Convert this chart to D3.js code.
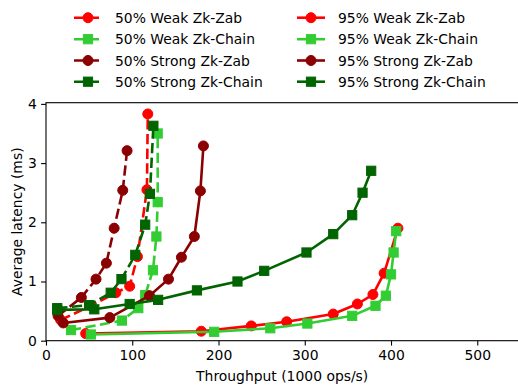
<!DOCTYPE html>
<html>
<head>
<meta charset="utf-8">
<script src="https://cdn.jsdelivr.net/npm/d3@7"></script>
<style>
  html, body { margin: 0; padding: 0; background: #fff; }
  svg { display: block; font-family: "DejaVu Sans", sans-serif; }
</style>
</head>
<body>
<svg id="chart" width="518" height="389"></svg>
<script>
// ---- Data (throughput in 1000 ops/s, latency in ms) ----
const xTicks = [0, 100, 200, 300, 400, 500];
const yTicks = [0, 1, 2, 3, 4];

const weak50ZabX = [17, 52, 81, 97, 106, 117, 118];
const weak50ZabY = [0.35, 0.59, 0.81, 0.92, 1.42, 2.55, 3.83];

const weak50ChainX = [29, 88, 107, 115, 124, 128, 129.5, 129.5];
const weak50ChainY = [0.18, 0.34, 0.55, 0.77, 1.19, 1.76, 2.34, 3.50];

const strong50ZabX = [14, 41, 58, 70, 79, 89, 94];
const strong50ZabY = [0.42, 0.73, 1.04, 1.31, 1.90, 2.54, 3.21];

const strong50ChainX = [13, 50, 75, 87.5, 103.5, 115, 120.5, 124.5];
const strong50ChainY = [0.55, 0.60, 0.81, 1.04, 1.45, 1.96, 2.48, 3.63];

const weak95ZabX = [46, 180, 238, 279, 333, 361, 379, 392, 408];
const weak95ZabY = [0.12, 0.16, 0.25, 0.32, 0.45, 0.62, 0.78, 1.14, 1.90];

const weak95ChainX = [52, 195, 260, 303, 355, 382, 394, 400, 403, 406];
const weak95ChainY = [0.105, 0.15, 0.21, 0.29, 0.42, 0.59, 0.76, 1.12, 1.49, 1.85];

const strong95ZabX = [20, 74, 120, 142, 157, 172, 179, 182.5];
const strong95ZabY = [0.30, 0.39, 0.76, 1.04, 1.41, 1.76, 2.53, 3.29];

const strong95ChainX = [13, 56, 97, 130, 175, 222, 253, 302, 333, 355, 367, 377];
const strong95ChainY = [0.52, 0.53, 0.62, 0.69, 0.85, 1.00, 1.18, 1.49, 1.80, 2.12, 2.50, 2.87];

const seriesLabels = [
  "50% Weak Zk-Zab", "50% Weak Zk-Chain", "50% Strong Zk-Zab", "50% Strong Zk-Chain",
  "95% Weak Zk-Zab", "95% Weak Zk-Chain", "95% Strong Zk-Zab", "95% Strong Zk-Chain"
];
const seriesX = [weak50ZabX, weak50ChainX, strong50ZabX, strong50ChainX,
                 weak95ZabX, weak95ChainX, strong95ZabX, strong95ChainX];
const seriesY = [weak50ZabY, weak50ChainY, strong50ZabY, strong50ChainY,
                 weak95ZabY, weak95ChainY, strong95ZabY, strong95ChainY];
const seriesColors = ["#ff0000", "#32cd32", "#8b0000", "#006400",
                      "#ff0000", "#32cd32", "#8b0000", "#006400"];
const seriesMarkers = ["circle", "square", "circle", "square",
                       "circle", "square", "circle", "square"];
const seriesDashed = [true, true, true, true, false, false, false, false];

(function () {
  const svg = d3.select("#chart");
  const pL = 46, pR = 520.4, pT = 102.7, pB = 340.7;
  const fontSize = 13.9;
  const dash = "10.3,4.4";
  const lw = 2.6;

  const x = d3.scaleLinear().domain([0, 550]).range([pL, pR]);
  const y = d3.scaleLinear().domain([0, 4.02]).range([pB, pT]);

  svg.append("defs").append("clipPath").attr("id", "plotclip")
    .append("rect").attr("x", pL).attr("y", pT)
    .attr("width", pR - pL).attr("height", pB - pT);

  const plot = svg.append("g").attr("clip-path", "url(#plotclip)");

  function drawMarker(g, kind, cx, cy, color) {
    if (kind === "circle") {
      g.append("circle").attr("cx", cx).attr("cy", cy).attr("r", 5)
        .attr("fill", color).attr("stroke", color).attr("stroke-width", 1);
    } else {
      const s = 9.2;
      g.append("rect").attr("x", cx - s / 2).attr("y", cy - s / 2)
        .attr("width", s).attr("height", s)
        .attr("fill", color).attr("stroke", color).attr("stroke-width", 1);
    }
  }

  const line = d3.line().x(d => x(d[0])).y(d => y(d[1]));

  seriesLabels.forEach((lab, i) => {
    const pts = seriesX[i].map((v, j) => [v, seriesY[i][j]]);
    const g = plot.append("g");
    g.append("path").datum(pts).attr("d", line)
      .attr("fill", "none").attr("stroke", seriesColors[i])
      .attr("stroke-width", lw)
      .attr("stroke-linejoin", "round")
      .attr("stroke-dasharray", seriesDashed[i] ? dash : null);
    pts.forEach(p => drawMarker(g, seriesMarkers[i], x(p[0]), y(p[1]), seriesColors[i]));
  });

  const xAxis = d3.axisBottom(x).tickValues(xTicks).tickFormat(d3.format("d"))
    .tickSize(4.9).tickPadding(4.2);
  const yAxis = d3.axisLeft(y).tickValues(yTicks).tickFormat(d3.format("d"))
    .tickSize(4.9).tickPadding(4.2);

  const gx = svg.append("g").attr("transform", `translate(0,${pB})`).call(xAxis);
  const gy = svg.append("g").attr("transform", `translate(${pL},0)`).call(yAxis);
  [gx, gy].forEach(g => {
    g.select(".domain").remove();
    g.selectAll(".tick line").attr("stroke", "#000").attr("stroke-width", 1.1);
    g.selectAll(".tick text").attr("fill", "#000")
      .style("font-size", fontSize + "px").style("font-family", "DejaVu Sans");
  });

  svg.append("rect").attr("x", pL).attr("y", pT)
    .attr("width", pR - pL).attr("height", pB - pT)
    .attr("fill", "none").attr("stroke", "#000").attr("stroke-width", 1.1);

  svg.append("text").attr("x", (pL + pR) / 2 - 1).attr("y", 380.5)
    .attr("text-anchor", "middle").style("font-size", fontSize + "px")
    .attr("fill", "#000").text("Throughput (1000 ops/s)");
  svg.append("text")
    .attr("transform", `translate(21.5,${(pT + pB) / 2}) rotate(-90)`)
    .attr("text-anchor", "middle").style("font-size", fontSize + "px")
    .attr("fill", "#000").text("Average latency (ms)");

  const legend = svg.append("g");
  const colHandleX = [74, 297];
  const colTextX = [115, 338];
  const rowY = [17.7, 39.2, 60.5, 81.7];
  const handleLen = 28;
  seriesLabels.forEach((lab, i) => {
    const col = Math.floor(i / 4), row = i % 4;
    const hx = colHandleX[col], hy = rowY[row];
    const g = legend.append("g");
    g.append("line").attr("x1", hx).attr("x2", hx + handleLen)
      .attr("y1", hy).attr("y2", hy)
      .attr("stroke", seriesColors[i]).attr("stroke-width", lw)
      .attr("stroke-dasharray", seriesDashed[i] ? dash : null);
    drawMarker(g, seriesMarkers[i], hx + handleLen / 2, hy, seriesColors[i]);
    g.append("text").attr("x", colTextX[col]).attr("y", hy + 5)
      .style("font-size", fontSize + "px").attr("fill", "#000").text(lab);
  });
})();
</script>
</body>
</html>
